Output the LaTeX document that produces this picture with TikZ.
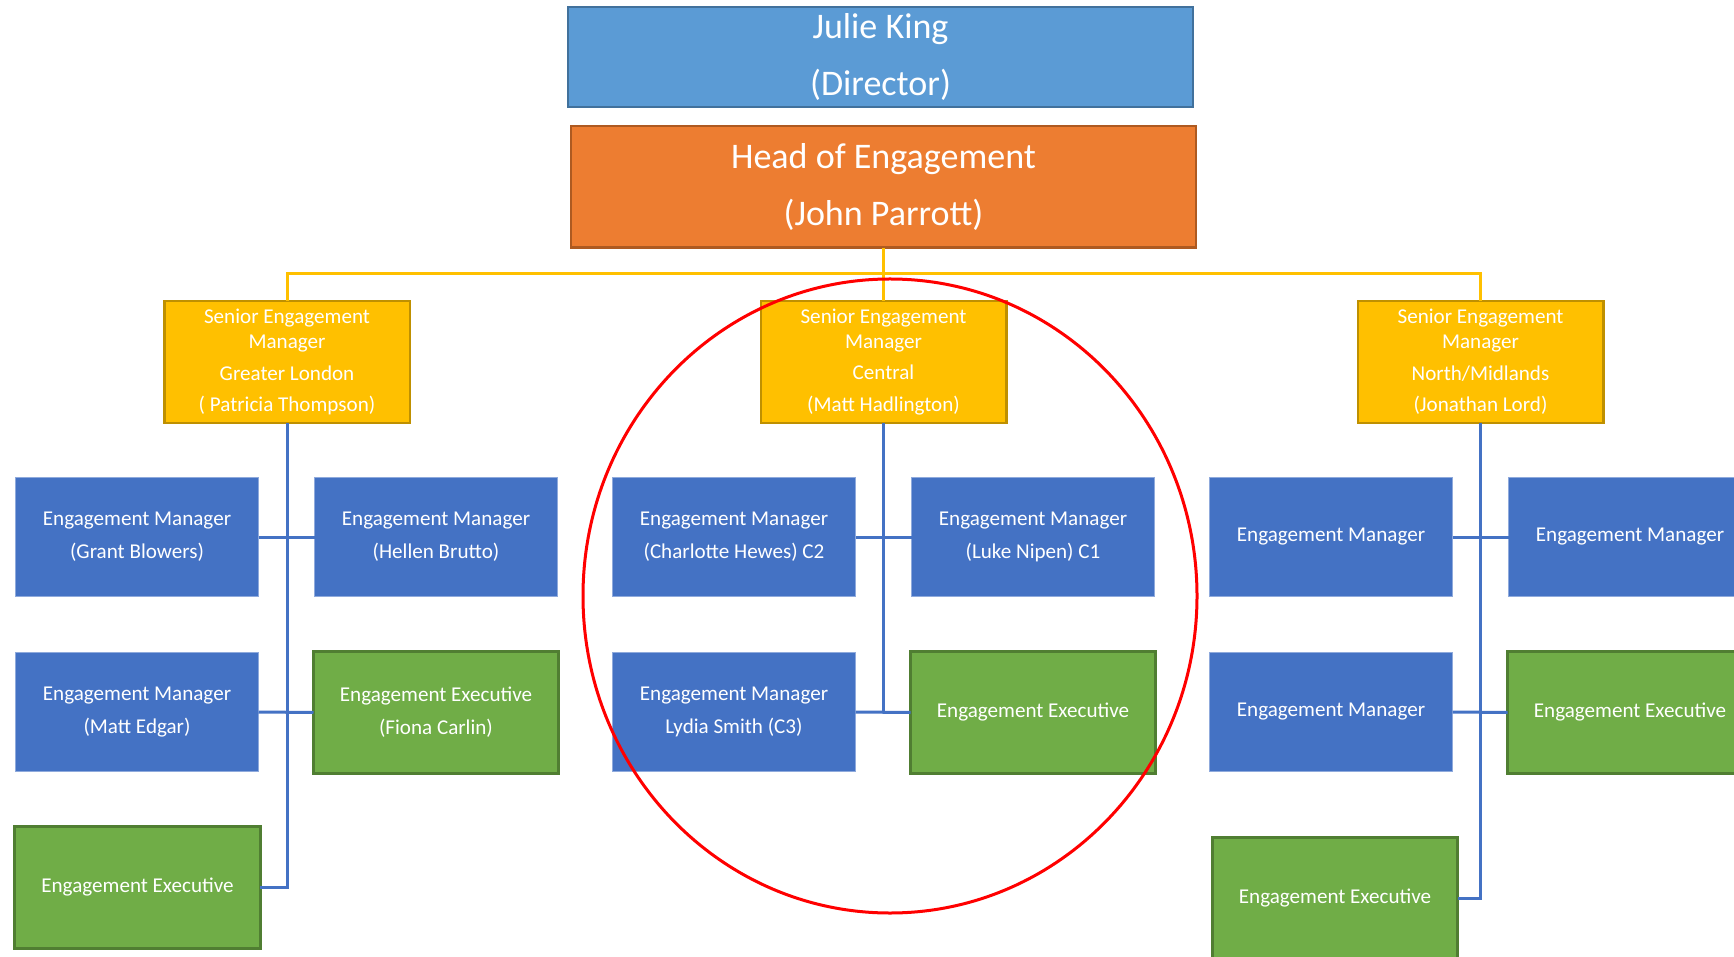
\documentclass[tikz,border=0pt]{standalone}
\usepackage{fontspec}
\setmainfont{Carlito}
\definecolor{dirblue}{HTML}{5B9BD5}
\definecolor{dirline}{HTML}{41719C}
\definecolor{headorange}{HTML}{ED7D31}
\definecolor{headline}{HTML}{AE5A21}
\definecolor{semgold}{HTML}{FFC000}
\definecolor{semline}{HTML}{BF9000}
\definecolor{emblue}{HTML}{4472C4}
\definecolor{emline}{HTML}{8FAADC}
\definecolor{eegreen}{HTML}{70AD47}
\definecolor{eeline}{HTML}{507E32}
\tikzset{
	box/.style={inner sep=0pt, outer sep=0pt, align=center, text=white},
	topbox/.style={box, minimum width=125mm, font=\fontsize{20.5}{32.4}\selectfont},
	dirbox/.style={topbox, fill=dirblue, draw=dirline, line width=0.4mm, minimum height=20mm},
	headbox/.style={topbox, fill=headorange, draw=headline, line width=0.5mm, minimum height=24.3mm},
	sembox/.style={box, fill=semgold, draw=semline, line width=0.5mm, minimum width=49.1mm, minimum height=24.3mm, font=\fontsize{12}{14.2}\selectfont},
	embox/.style={box, fill=emblue, draw=emline, line width=0.2mm, minimum width=48.6mm, minimum height=23.8mm, font=\fontsize{12}{18.7}\selectfont},
	eebox/.style={box, fill=eegreen, draw=eeline, line width=0.6mm, minimum width=49mm, minimum height=24.4mm, font=\fontsize{12}{18.7}\selectfont},
	yline/.style={line width=0.6mm, color=semgold},
	bline/.style={line width=0.6mm, color=emblue}
}

\begin{document}
\begin{tikzpicture}[x=0.2mm, y=-0.2mm]
			%%%%% START %%%%%
			\useasboundingbox (0, 0) rectangle (1734, 957);
			\clip (0, 0) rectangle (1734, 957);
			
			\node[dirbox] (dir) at (880.5, 57) {Julie King\\(Director)};
			\node[headbox] (head) at (883.5, 187) {Head of Engagement\\(John Parrott)};
			
			\node[sembox] (semL) at (287, 362) {Senior Engagement\\Manager\\[3.7pt]Greater London\\[3.7pt]( Patricia Thompson)};
			\node[sembox] (semC) at (883.5, 362) {Senior Engagement\\Manager\\[3.7pt]Central\\[3.7pt](Matt Hadlington)};
			\node[sembox] (semR) at (1480.5, 362) {Senior Engagement\\Manager\\[3.7pt]North/Midlands\\[3.7pt](Jonathan Lord)};
			
			% Greater London
			\node[embox] (grant) at (137, 537) {Engagement Manager\\(Grant Blowers)};
			\node[embox] (hellen) at (436, 537) {Engagement Manager\\(Hellen Brutto)};
			\node[embox] (edgar) at (137, 712) {Engagement Manager\\(Matt Edgar)};
			\node[eebox] (fiona) at (436, 712.5) {Engagement Executive\\(Fiona Carlin)};
			\node[eebox] (eeL) at (137.5, 887.5) {Engagement Executive};
			
			% Central
			\node[embox] (charlotte) at (734, 537) {Engagement Manager\\(Charlotte Hewes) C2};
			\node[embox] (luke) at (1033, 537) {Engagement Manager\\(Luke Nipen) C1};
			\node[embox] (lydia) at (734, 712) {Engagement Manager\\Lydia Smith (C3)};
			\node[eebox] (eeC) at (1033, 712.5) {Engagement Executive};
			
			% North/Midlands
			\node[embox] (emRa) at (1331, 537) {Engagement Manager};
			\node[embox] (emRb) at (1630, 537) {Engagement Manager};
			\node[embox] (emRc) at (1331, 712) {Engagement Manager};
			\node[eebox] (eeRa) at (1630, 712.5) {Engagement Executive};
			\node[eebox] (eeRb) at (1335, 898.5) {Engagement Executive};
			
			\coordinate (bus) at (883.5, 274);
			\draw[yline] (head.south) -- (semC.north);
			\draw[yline] (semL.north) -- (semL.north |- bus) -- (semR.north |- bus) -- (semR.north);
			
			\draw[bline] (semL.south) -- (semL.south |- eeL.east) -- (eeL.east);
			\draw[bline] (grant.east) -- (hellen.west);
			\draw[bline] (edgar.east) -- (fiona.west);
			
			\draw[bline] (semC.south) -- (semC.south |- lydia.east);
			\draw[bline] (charlotte.east) -- (luke.west);
			\draw[bline] (lydia.east) -- (eeC.west);
			
			\draw[bline] (semR.south) -- (semR.south |- eeRb.east) -- (eeRb.east);
			\draw[bline] (emRa.east) -- (emRb.west);
			\draw[bline] (emRc.east) -- (eeRa.west);
			
			\draw[line width=0.6mm, color=red] (890, 596) ellipse [x radius=61.4mm, y radius=63.4mm];
			%%%%% END %%%%%
\end{tikzpicture}
\end{document}
